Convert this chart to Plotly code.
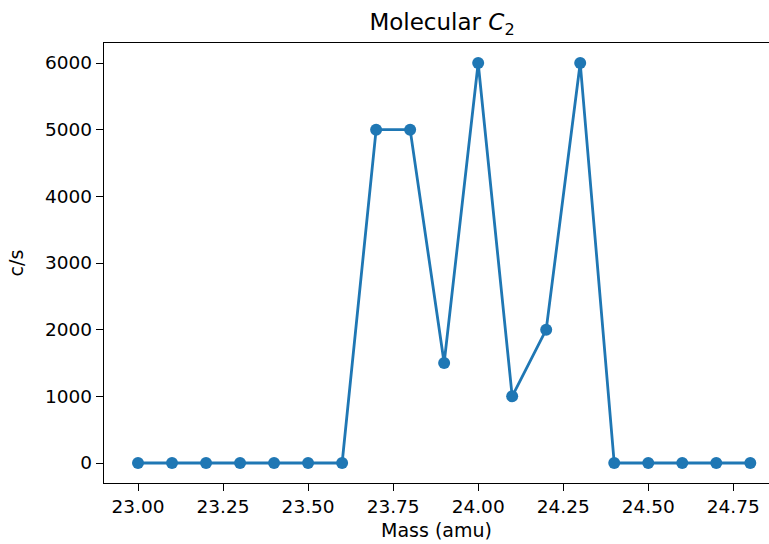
import plotly.graph_objects as go

mass = [23.0, 23.1, 23.2, 23.3, 23.4, 23.5, 23.6, 23.7, 23.8, 23.9,
        24.0, 24.1, 24.2, 24.3, 24.4, 24.5, 24.6, 24.7, 24.8]
counts = [0, 0, 0, 0, 0, 0, 0, 5000, 5000, 1500,
          6000, 1000, 2000, 6000, 0, 0, 0, 0, 0]
x_ticks = [23.00, 23.25, 23.50, 23.75, 24.00, 24.25, 24.50, 24.75]
x_tick_labels = ["23.00", "23.25", "23.50", "23.75", "24.00", "24.25", "24.50", "24.75"]
y_ticks = [0, 1000, 2000, 3000, 4000, 5000, 6000]

font = "DejaVu Sans"
fig = go.Figure(go.Scatter(
    x=mass, y=counts, mode="lines+markers",
    line=dict(color="#1f77b4", width=2.8),
    marker=dict(color="#1f77b4", size=12),
))
fig.update_layout(
    width=769, height=544,
    margin=dict(l=104, r=0, t=43, b=61),
    paper_bgcolor="white", plot_bgcolor="white",
    font=dict(family=font, size=19, color="black"),
    showlegend=False,
    title=dict(text="Molecular <i>C</i><sub>2</sub>", x=442/769, xanchor="center",
               y=1 - 22/544, yanchor="middle", yref="container", xref="container",
               font=dict(size=23)),
    xaxis=dict(range=[22.9, 23.0 + (769 - 138.3) / 340], tickvals=x_ticks, ticktext=x_tick_labels,
               showgrid=False, zeroline=False, showline=True, linecolor="black", linewidth=1.4,
               mirror=True, ticks="outside", ticklen=7, tickwidth=1.3, tickcolor="black",
               tickfont=dict(size=18.5),
               title=dict(text="Mass (amu)", standoff=7, font=dict(size=19))),
    yaxis=dict(range=[-300, 6300], tickvals=y_ticks,
               showgrid=False, zeroline=False, showline=True, linecolor="black", linewidth=1.4,
               ticks="outside", ticklen=7, tickwidth=1.3, tickcolor="black",
               tickfont=dict(size=18.5),
               title=dict(text="c/s", standoff=16, font=dict(size=19))),
)
fig.write_html("out.html")
